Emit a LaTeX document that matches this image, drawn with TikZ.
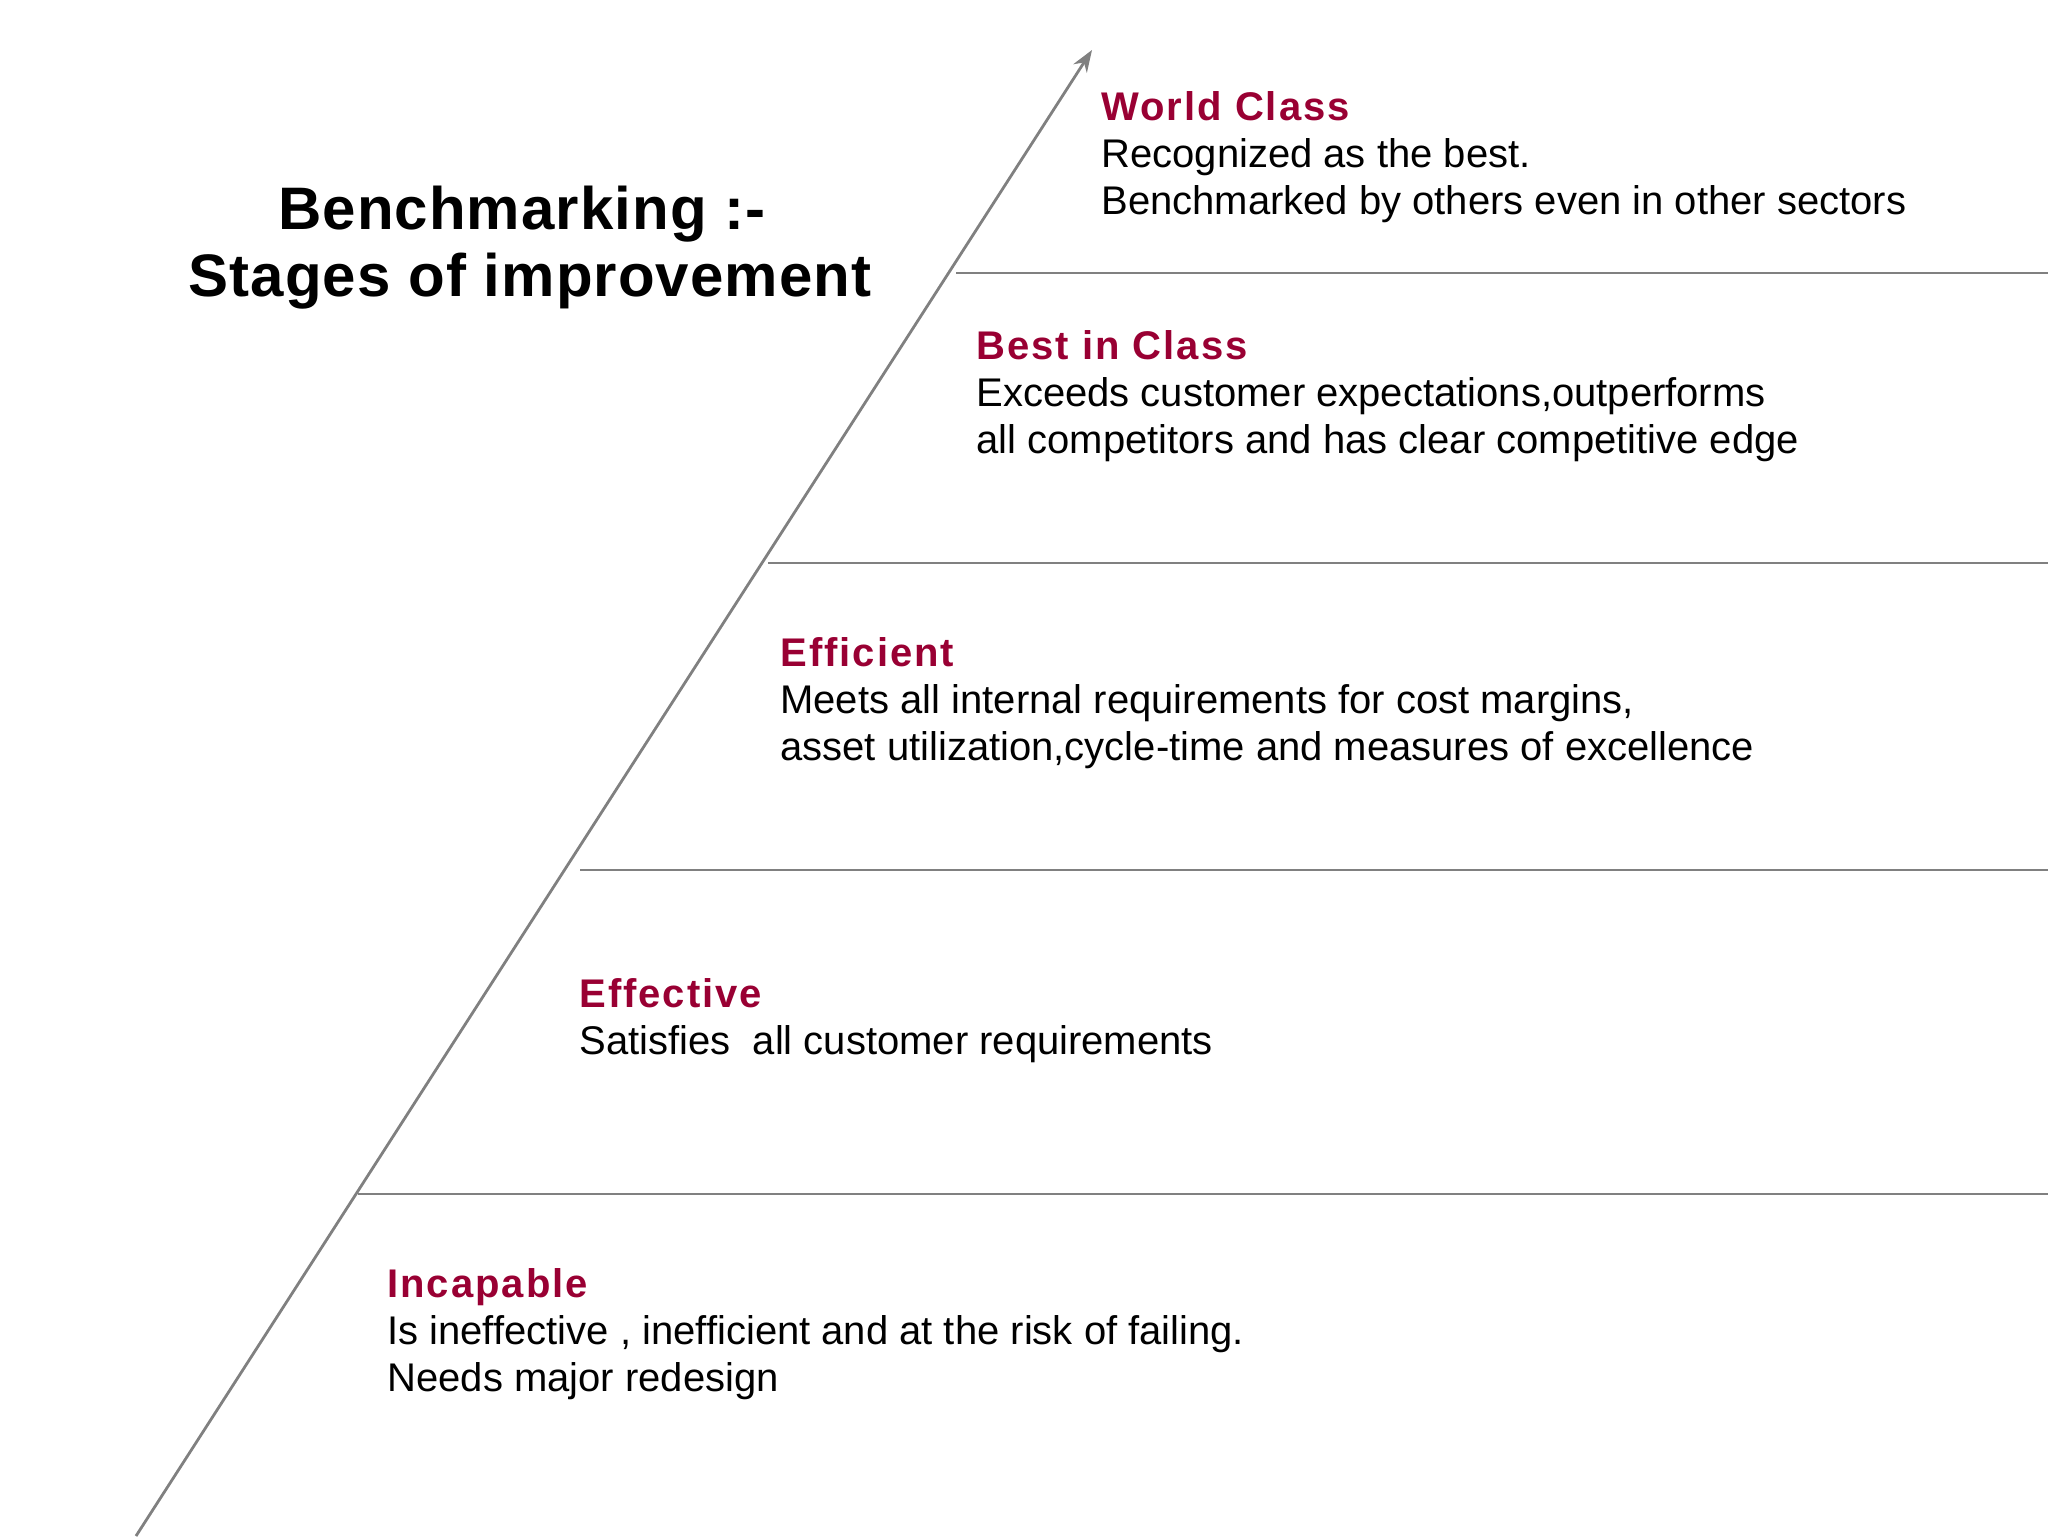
\documentclass[tikz,border=0pt]{standalone}
\usepackage{fontspec}
\setmainfont{Liberation Sans}
\newfontfamily\headfont[LetterSpace=5]{Liberation Sans Bold}
\newfontfamily\titlefont[LetterSpace=1.8]{Liberation Sans Bold}
\usetikzlibrary{arrows.meta}
\definecolor{stagered}{RGB}{153,0,51}
\definecolor{linegray}{RGB}{128,128,128}
\tikzset{
  head/.style={anchor=base west, inner sep=0pt, text=stagered, font=\headfont\fontsize{20pt}{23.5pt}\selectfont},
  body/.style={anchor=base west, inner sep=0pt, text=black, font=\fontsize{20pt}{23.5pt}\selectfont},
  ttl/.style={anchor=base, inner sep=0pt, text=black, font=\titlefont\fontsize{30pt}{34pt}\selectfont},
  sep/.style={draw=linegray, line width=1.4pt},
  axis/.style={draw=linegray, line width=1.4pt, -{Stealth[length=11pt,width=8pt]}}
}
\begin{document}
\begin{tikzpicture}[x=0.5pt,y=-0.5pt]
\useasboundingbox (0,0) rectangle (2048,1536);
% axis
\coordinate (base) at (136,1536);
\coordinate (tip) at (1092,50);
\draw[axis] (base) -- (tip);
% separators
\foreach \nm/\xs/\yy in {s1/956/273, s2/768/563, s3/580/870, s4/358/1194}{
  \coordinate (\nm a) at (\xs,\yy);
  \coordinate (\nm b) at (2048,\yy);
  \draw[sep] (\nm a) -- (\nm b);
}
% title
\node[ttl] (t1) at (522,229) {Benchmarking :-};
\node[ttl] (t2) at (530,296) {Stages of improvement};
% World Class
\node[head] (h1) at (1101,120) {World Class};
\node[body] (b1a) at (1101,167) {Recognized as the best.};
\node[body] (b1b) at (1101,214) {Benchmarked by others even in other sectors};
% Best in Class
\node[head] (h2) at (976,359) {Best in Class};
\node[body] (b2a) at (976,406) {Exceeds customer expectations,outperforms};
\node[body] (b2b) at (976,453) {all competitors and has clear competitive edge};
% Efficient
\node[head] (h3) at (780,666) {Efficient};
\node[body] (b3a) at (780,713) {Meets all internal requirements for cost margins,};
\node[body] (b3b) at (780,760) {asset utilization,cycle-time and measures of excellence};
% Effective
\node[head] (h4) at (579,1007) {Effective};
\node[body] (b4a) at (579,1054) {Satisfies\ \ all customer requirements};
% Incapable
\node[head] (h5) at (387,1297) {Incapable};
\node[body] (b5a) at (387,1344) {Is ineffective , inefficient and at the risk of failing.};
\node[body] (b5b) at (387,1391) {Needs major redesign};
\end{tikzpicture}
\end{document}
